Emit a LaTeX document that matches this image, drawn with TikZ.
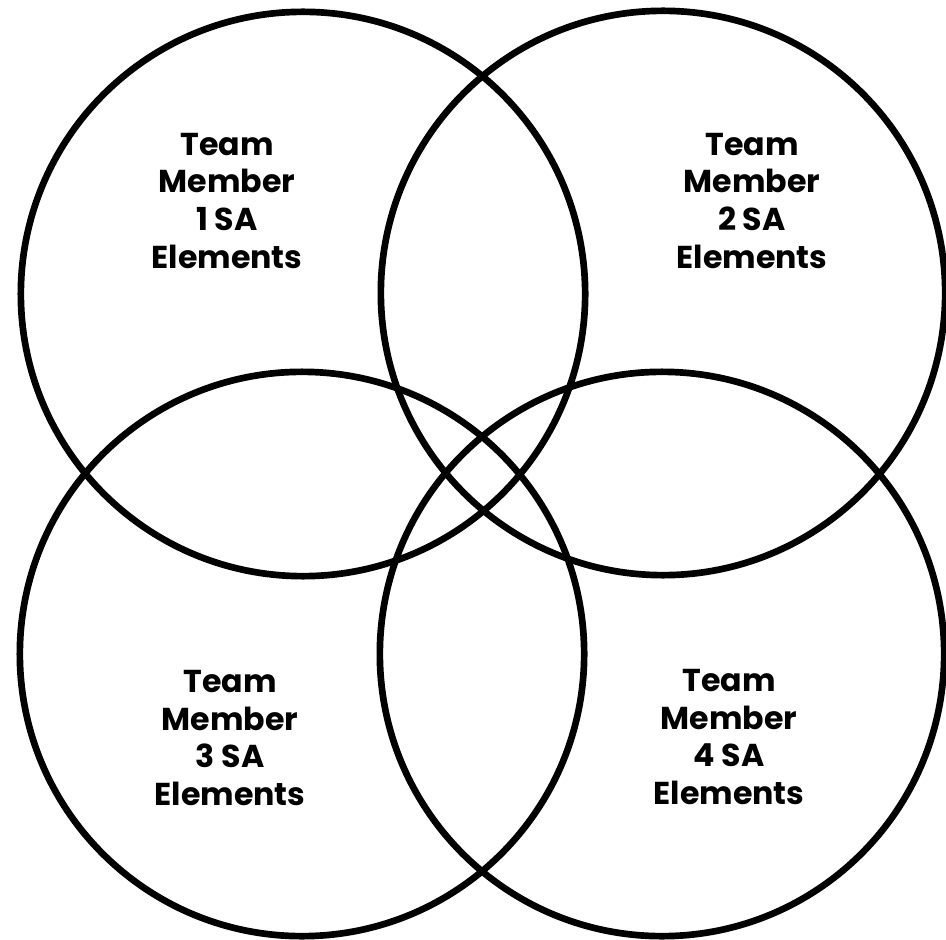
\documentclass[tikz,border=0pt]{standalone}
\usepackage{fontspec}
\setsansfont{Poppins}
\usepackage{tikz}
\usetikzlibrary{positioning}

\begin{document}
\begin{tikzpicture}[
        x=0.01cm, y=-0.01cm,
        member/.style={draw, circle, line width=1.9pt, minimum size=5.64cm, inner sep=0pt},
        label/.style={align=center, font=\sffamily\bfseries\fontsize{9}{10.8}\selectfont}
    ]
    \useasboundingbox (0,0) rectangle (946,940);

    % Circles
    \node[member] (c1) at (303,294) {};
    \node[member] (c2) at (663,293) {};
    \node[member] (c3) at (302,654) {};
    \node[member] (c4) at (662,654) {};

    % Labels
    \node[label] (t1) at (227,201) {Team\\Member\\1 SA\\Elements};
    \node[label] (t2) at (752,201) {Team\\Member\\2 SA\\Elements};
    \node[label] (t3) at (230,738) {Team\\Member\\3 SA\\Elements};
    \node[label] (t4) at (729,737) {Team\\Member\\4 SA\\Elements};

\end{tikzpicture}
\end{document}
